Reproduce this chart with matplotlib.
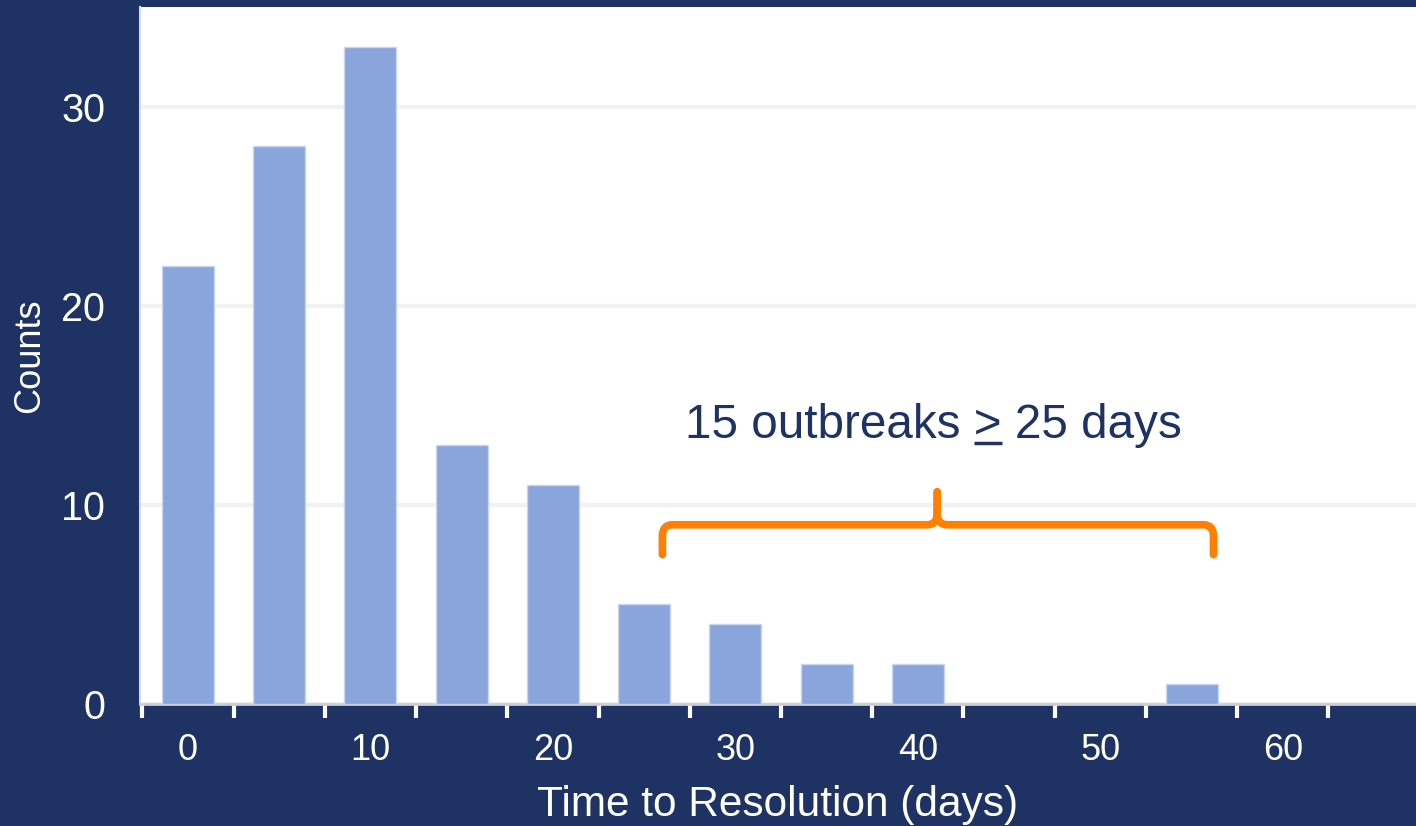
import matplotlib
matplotlib.use("Agg")
import matplotlib.pyplot as plt
from matplotlib.path import Path
from matplotlib.patches import PathPatch

plt.rcParams['font.family'] = ['Liberation Sans', 'DejaVu Sans']

# Histogram of outbreak durations (5-day bins)
bin_centers = [0, 5, 10, 15, 20, 25, 30, 35, 40, 45, 50, 55]
counts = [22, 28, 33, 13, 11, 5, 4, 2, 2, 0, 0, 1]
xtick_values = [0, 10, 20, 30, 40, 50, 60]
ytick_values = [0, 10, 20, 30]
note_text_left = "15 outbreaks "
note_symbol = ">"
note_text_right = " 25 days"

NAVY = "#1E3263"
BAR = "#8AA4DC"
ORANGE = "#FF8000"

fig = plt.figure(figsize=(14.16, 8.26), dpi=100, facecolor=NAVY)
ax = fig.add_axes([140 / 1416, 1 - 704 / 826, 1 - 140 / 1416, (704 - 7) / 826])
ax.set_facecolor("white")

ax.bar(bin_centers, counts, width=2.85, color=BAR, edgecolor="#C9D6F2",
       linewidth=1.0, zorder=3)

ax.set_xlim(-2.63, 67.3)
ax.set_ylim(0, 35)

# Grid
ax.set_yticks(ytick_values)
ax.yaxis.grid(True, color="#F2F2F2", linewidth=3, zorder=0)
ax.set_axisbelow(True)

# Spines
for side in ("top", "right"):
    ax.spines[side].set_visible(False)
ax.spines["left"].set_color("#D5D9E3")
ax.spines["left"].set_linewidth(1.5)
ax.spines["bottom"].set_color("#C8CDD9")
ax.spines["bottom"].set_linewidth(2)

# Ticks: labels at round numbers, marks at bin edges
ax.set_xticks(xtick_values)
ax.set_xticks([b - 2.5 for b in bin_centers] + [bin_centers[-1] + 2.5, bin_centers[-1] + 7.5], minor=True)
ax.tick_params(axis="x", which="major", length=0, pad=21, labelsize=26, labelcolor="white")
ax.tick_params(axis="x", which="minor", length=10, width=3, color="white", direction="out")
ax.tick_params(axis="y", which="both", length=0, pad=25, labelsize=28.5, labelcolor="white")

ax.set_xlabel("Time to Resolution (days)", fontsize=30.5, color="white", labelpad=12)
ax.set_ylabel("Counts", fontsize=26, color="white")
ax.yaxis.set_label_coords(-0.073, 0.5)

# Brace spanning the long-duration bins
brace_x0, brace_x1, brace_xc = 26.0, 56.2, 41.06
brace_ybot, brace_yh, brace_ypeak = 7.5, 9.0, 10.65
rx, ry = 0.55, 0.55

def half_brace(x_tip, direction):
    verts = [
        (x_tip, brace_ybot),
        (x_tip, brace_yh - ry),
        (x_tip, brace_yh),
        (x_tip + direction * rx, brace_yh),
        (brace_xc - direction * rx, brace_yh),
        (brace_xc, brace_yh),
        (brace_xc, brace_yh + ry),
        (brace_xc, brace_ypeak),
    ]
    codes = [Path.MOVETO, Path.LINETO, Path.CURVE3, Path.CURVE3,
             Path.LINETO, Path.CURVE3, Path.CURVE3, Path.LINETO]
    return Path(verts, codes)

for x_tip, d in ((brace_x0, 1), (brace_x1, -1)):
    ax.add_patch(PathPatch(half_brace(x_tip, d), facecolor="none", edgecolor=ORANGE,
                           linewidth=5.5, capstyle="round", joinstyle="round", zorder=5))

# Annotation text with underlined comparison sign
note_x, note_y = 40.85, 13.37
full_text = note_text_left + note_symbol + note_text_right
txt = ax.text(note_x, note_y, full_text, ha="center", va="baseline",
              fontsize=34.3, color=NAVY, zorder=6)
fig.canvas.draw()
renderer = fig.canvas.get_renderer()
bb_full = txt.get_window_extent(renderer)

def text_width(s):
    t = ax.text(0, 0, s, fontsize=34.3)
    w = t.get_window_extent(renderer).width
    t.remove()
    return w

w_upto = text_width(note_text_left + note_symbol)
w_sym = text_width(note_symbol)
x_right_px = bb_full.x0 + w_upto
x_left_px = x_right_px - w_sym
base_px = ax.transData.transform((note_x, note_y))[1]
inv = ax.transData.inverted()
(ul_x0, ul_y), (ul_x1, _) = inv.transform([(x_left_px, base_px - 5), (x_right_px, base_px - 5)])
ax.plot([ul_x0, ul_x1], [ul_y, ul_y], color=NAVY, linewidth=2.5, solid_capstyle="butt", zorder=6)

fig.savefig("out.png", dpi=100, facecolor=NAVY)
